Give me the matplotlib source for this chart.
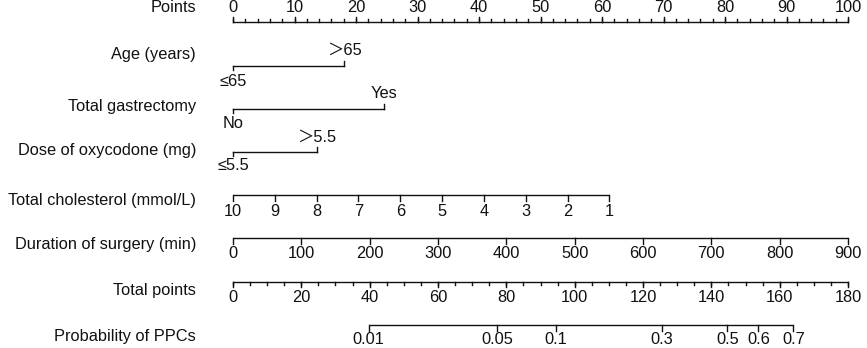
import matplotlib
matplotlib.use('Agg')
import matplotlib.pyplot as plt
import numpy as np

plt.rcParams['font.family'] = ['Liberation Sans', 'Noto Sans CJK SC', 'DejaVu Sans']

# ---------------- data ----------------
row_names = ['Points', 'Age (years)', 'Total gastrectomy', 'Dose of oxycodone (mg)',
             'Total cholesterol (mmol/L)', 'Duration of surgery (min)',
             'Total points', 'Probability of PPCs']

points_major = list(range(0, 101, 10))
points_minor = list(range(0, 101, 2))

age_labels = ['≤65', '＞65']
age_points = [0, 18.1]

gastrectomy_labels = ['No', 'Yes']
gastrectomy_points = [0, 24.5]

dose_labels = ['≤5.5', '＞5.5']
dose_points = [0, 13.6]

chol_values = [10, 9, 8, 7, 6, 5, 4, 3, 2, 1]
chol_points_at_1 = 61.2      # points for cholesterol = 1 (10 -> 0 points)

duration_values = [0, 100, 200, 300, 400, 500, 600, 700, 800, 900]
duration_points_at_900 = 100.0

total_major = list(range(0, 181, 20))
total_minor = list(range(0, 181, 5))
total_max = 180

prob_labels = ['0.01', '0.05', '0.1', '0.3', '0.5', '0.6', '0.7']
prob_total_points = [39.7, 77.3, 94.4, 125.5, 144.7, 153.8, 164.0]

# ---------------- layout ----------------
W, H, DPI = 867, 348, 100
x_origin, px_per_point = 233, 6.15
fs = 11.8
lw = 1.0
col = '#111111'

fig = plt.figure(figsize=(W / DPI, H / DPI), dpi=DPI)
ax = fig.add_axes([0, 0, 1, 1])
ax.set_xlim(-x_origin / px_per_point, (W - x_origin) / px_per_point)
ax.set_ylim(H, 0)
ax.axis('off')

# px offset helper for names (in data coords)
def px2x(px):
    return (px - x_origin) / px_per_point

name_x = px2x(196)
name_y = [8, 55, 106, 150, 201, 244, 290, 337]
for n, y in zip(row_names, name_y):
    ax.text(name_x, y, n, ha='right', va='center', fontsize=fs, color=col)


def scale_axis(y_line, pos_major, labels, label_y, tick_dir, major_len=5.5,
               pos_minor=None, minor_len=3):
    ax.plot([min(pos_major), max(pos_major)], [y_line, y_line], color=col, lw=lw,
            solid_capstyle='butt')
    for p in pos_major:
        ax.plot([p, p], [y_line, y_line + tick_dir * major_len], color=col, lw=lw)
    if pos_minor is not None:
        for p in pos_minor:
            ax.plot([p, p], [y_line, y_line + tick_dir * minor_len], color=col, lw=lw)
    for p, lab in zip(pos_major, labels):
        ax.text(p, label_y, lab, ha='center', va='center', fontsize=fs, color=col)


# Points (ticks up, labels above)
scale_axis(22, points_major, [str(v) for v in points_major], 8, -1,
           major_len=5.5, pos_minor=points_minor, minor_len=2.8)


def cat_axis(y_line, pts, labels, y_below, y_above):
    ax.plot([min(pts), max(pts)], [y_line, y_line], color=col, lw=lw)
    # first label below, second above
    ax.plot([pts[0], pts[0]], [y_line, y_line + 4.5], color=col, lw=lw)
    ax.text(pts[0], y_below, labels[0], ha='center', va='center', fontsize=fs, color=col)
    ax.plot([pts[1], pts[1]], [y_line, y_line - 4.5], color=col, lw=lw)
    ax.text(pts[1], y_above, labels[1], ha='center', va='center', fontsize=fs, color=col)


cat_axis(65.7, age_points, age_labels, 81, 50)
cat_axis(108.5, gastrectomy_points, gastrectomy_labels, 123, 94)
cat_axis(151.7, dose_points, dose_labels, 165.5, 137)

# Total cholesterol
chol_pos = [(10 - v) / 9 * chol_points_at_1 for v in chol_values]
scale_axis(195, chol_pos, [str(v) for v in chol_values], 211, 1)

# Duration of surgery
dur_pos = [v / 900 * duration_points_at_900 for v in duration_values]
scale_axis(238.3, dur_pos, [str(v) for v in duration_values], 253, 1)

# Total points
tp_pos = [v / total_max * 100 for v in total_major]
tp_minor = [v / total_max * 100 for v in total_minor]
scale_axis(281.7, tp_pos, [str(v) for v in total_major], 298, 1,
           pos_minor=tp_minor, minor_len=2.8)

# Probability
pr_pos = [v / total_max * 100 for v in prob_total_points]
scale_axis(325, pr_pos, prob_labels, 340, 1)

fig.savefig('out.png', dpi=DPI)
